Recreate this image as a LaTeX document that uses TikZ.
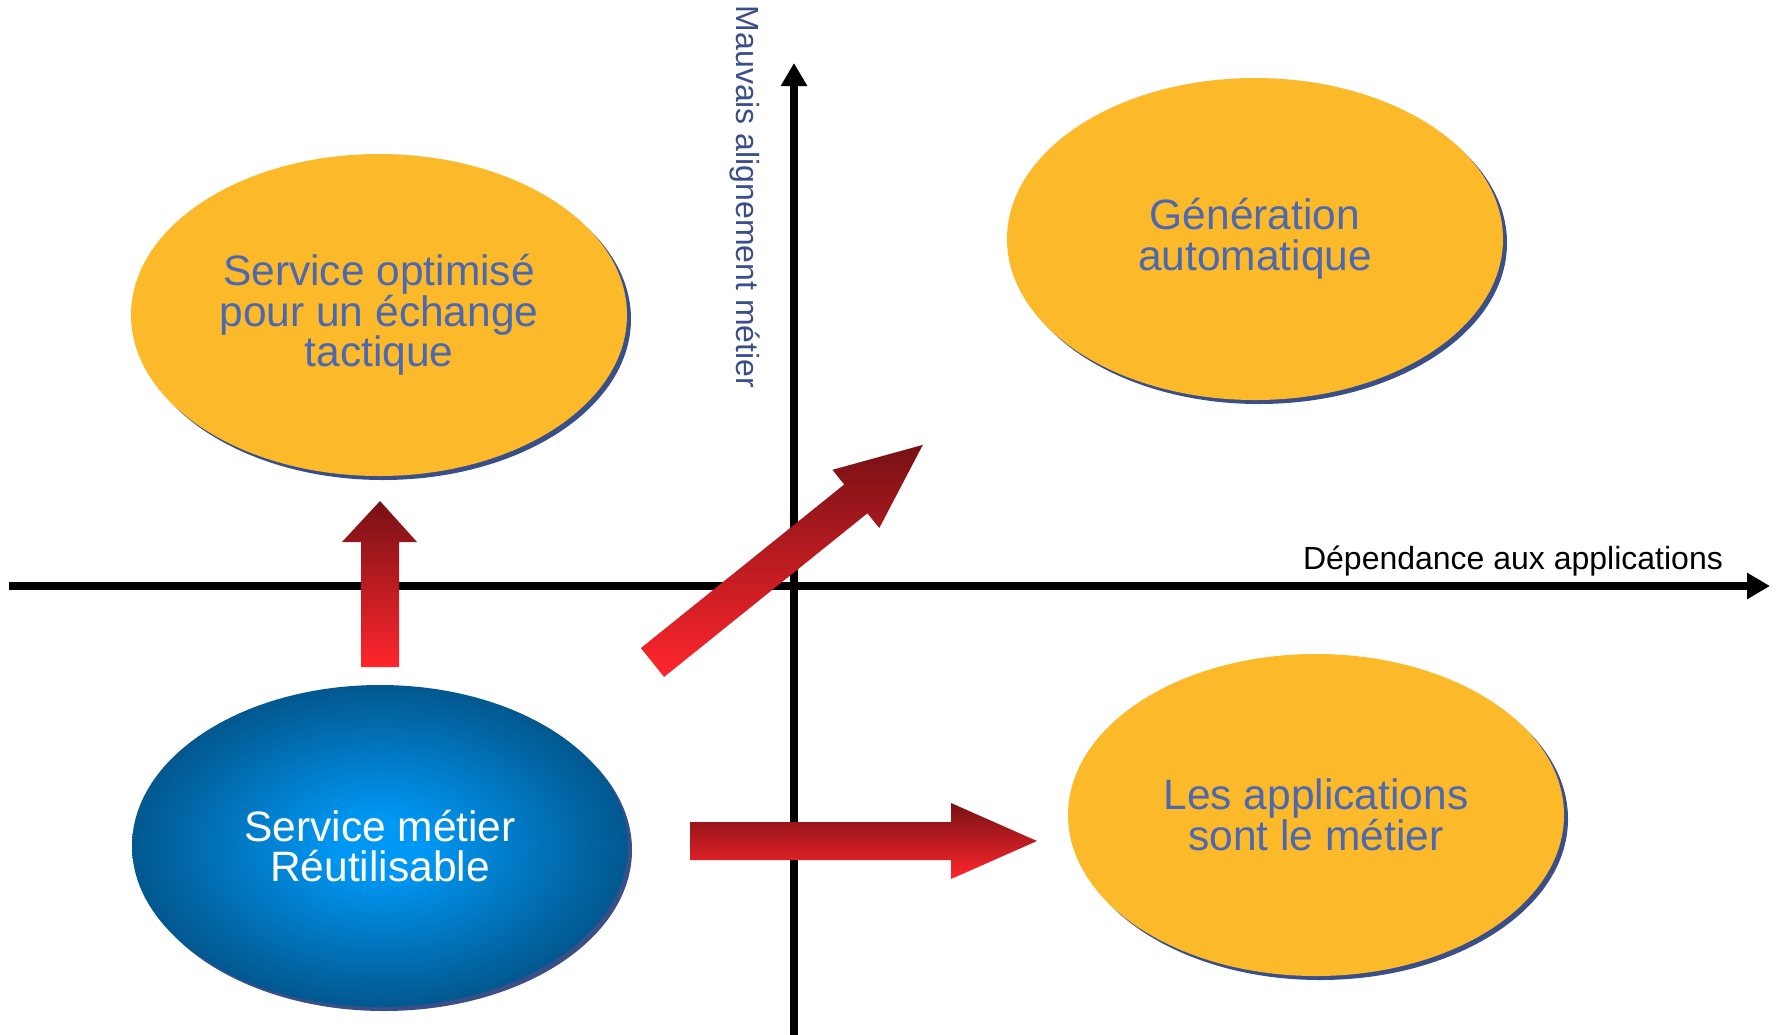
\documentclass[tikz,border=0pt]{standalone}
\usepackage{fontspec}
\setmainfont{Liberation Sans}
\usetikzlibrary{shapes.geometric,shadows,arrows.meta}
\definecolor{orangefill}{RGB}{252,185,41}
\definecolor{shadowblue}{RGB}{58,79,135}
\definecolor{labelblue}{RGB}{76,104,176}
\definecolor{axisblue}{RGB}{59,78,138}
\definecolor{bluecenter}{RGB}{0,152,245}
\definecolor{blueedge}{RGB}{3,72,118}
\definecolor{reddark}{RGB}{118,17,21}
\definecolor{redlight}{RGB}{255,38,44}
\pgfdeclareradialshading{blueglow}{\pgfpointorigin}{color(0bp)=(bluecenter); color(4bp)=(bluecenter); color(30bp)=(blueedge); color(50bp)=(blueedge)}
\begin{document}
\begin{tikzpicture}[x=1pt,y=-1pt,
  bubble/.style={ellipse, minimum width=496pt, minimum height=322pt, inner sep=0pt,
    align=center, font=\fontsize{42.5}{40.5}\selectfont,
    drop shadow={shadow xshift=4pt, shadow yshift=-4pt, fill=shadowblue, opacity=1}},
  gold/.style={bubble, fill=orangefill, text=labelblue},
  bluebubble/.style={bubble, shade, shading=blueglow, text=white},
  axisline/.style={line width=8pt, -{Triangle[length=23pt,width=25pt]}},
  axislabel/.style={font=\fontsize{32}{36}\selectfont, inner sep=0pt},
  redarrow/.style={top color=reddark, bottom color=redlight}
]
\useasboundingbox (0,0) rectangle (1778,1034);

% axes
\coordinate (xs) at (9,586);
\coordinate (xe) at (1770,586);
\coordinate (ys) at (794,1040);
\coordinate (ye) at (794,63);
\draw[axisline] (xs) -- (xe);
\draw[axisline] (ys) -- (ye);

\node[axislabel, anchor=base] (xl) at (1513,569) {Dépendance aux applications};
\node[axislabel, text=axisblue, rotate=-90, anchor=base] (yl) at (736,197) {Mauvais alignement métier};

% ellipses
\node[gold] (tl) at (379,315) {Service optimisé\\pour un échange\\tactique};
\node[gold] (tr) at (1255,239) {Génération\\automatique};
\node[gold] (br) at (1316,815) {Les applications\\sont le métier};
\node[bluebubble] (bl) at (380,846) {Service métier\\Réutilisable};

% block arrows
\shade[redarrow] (361,667) -- (361,542) -- (342,542) -- (380,501) -- (417,542) -- (399,542) -- (399,667) -- cycle;
\shade[redarrow] (690,822) -- (951,822) -- (951,803) -- (1037,841) -- (951,879) -- (951,860) -- (690,860) -- cycle;
\shade[redarrow] (640.9,648.1) -- (844.2,484.5) -- (832.4,469.8) -- (922.8,444.9) -- (879.3,528.0) -- (867.4,513.3) -- (664.1,676.9) -- cycle;
\end{tikzpicture}
\end{document}
